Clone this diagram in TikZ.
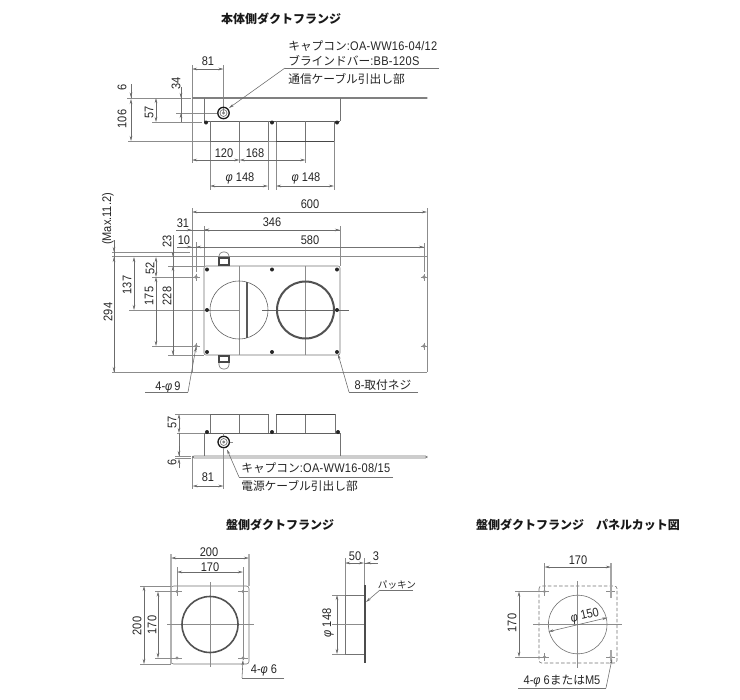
\documentclass[tikz,border=0pt]{standalone}
\usepackage{fontspec}
\setmainfont[FakeStretch=0.88]{Liberation Sans}
\newfontfamily\latsp[FakeStretch=0.88,LetterSpace=2]{Liberation Sans}
\newfontfamily\jpf{Noto Sans CJK JP}
\usetikzlibrary{arrows.meta}
\newcommand{\ph}{\textit{φ}}
\tikzset{
 x=0.75pt,y=-0.75pt,
 lab/.style={inner sep=0pt,font=\fontsize{9.4pt}{10pt}\selectfont,text=black!85},
 vlab/.style={lab,rotate=90},
 note/.style={lab,anchor=west,font=\fontsize{8.8pt}{10pt}\jpf\selectfont},
 ttl/.style={inner sep=0pt,font=\fontsize{9pt}{10pt}\jpf\bfseries\selectfont,text=black!90},
 ext/.style={draw=black!45,line width=0.42pt},
 dl/.style={draw=black!58,line width=0.42pt,{Stealth[length=3.8pt,width=1.9pt]}-{Stealth[length=3.8pt,width=1.9pt]}},
 da/.style={draw=black!58,line width=0.42pt,-{Stealth[length=3.8pt,width=1.9pt]}},
 lead/.style={draw=black!55,line width=0.42pt},
 body/.style={draw=black!55,line width=0.45pt},
 dark/.style={draw=black!72,line width=0.6pt},
 ring/.style={draw=black!68,line width=1.2pt},
 screw/.style={fill=black!85,draw=none},
 hole/.style={fill=black!45,draw=none},
}
\newcommand{\holecross}[2]{%
 \fill[hole] (#1,#2) circle (1.8);
 \draw[ext] (#1-3.5,#2) -- (#1+3.5,#2) (#1,#2-3.5) -- (#1,#2+3.5);}
\newcommand{\gland}[2]{%
 \draw[black!90,line width=1pt] (#1,#2) circle (5.7);
 \draw[black!55,line width=0.5pt] (#1,#2) circle (3.5);
 \fill[black!50] (#1,#2) circle (1.6);}
\newcommand{\tlat}[1]{{\latsp\fontsize{9.4pt}{10pt}\selectfont #1}}
\begin{document}
\begin{tikzpicture}
\useasboundingbox[fill=white] (0,0) rectangle (740,700);
%% ---------- top view
\node[ttl] (title1) at (281,19) {本体側ダクトフランジ};
\node[note] (n1) at (288,46) {キャプコン\tlat{:OA-WW16-04/12}};
\node[note] (n2) at (288,61) {ブラインドバー\tlat{:BB-120S}};
\node[note] (n3) at (288,79) {通信ケーブル引出し部};
\coordinate (g1) at (223.5,113);
\draw[ext] (192,65) -- (192,163) (223.5,65) -- (223.5,113)
 (239.5,121) -- (239.5,163) (305.5,121) -- (305.5,163)
 (210,141) -- (210,190) (268,121) -- (268,190) (276,141) -- (276,190) (334,141) -- (334,190);
\draw[ext] (127,98) -- (191,98) (128,141) -- (334,141) (152,122) -- (202,122) (176,113) -- (217,113);
\draw[black!50,line width=0.95pt,line cap=round] (192.5,98) -- (427,98);
\draw[body] (204,98) -- (204,121) (340,98) -- (340,121);
\draw[black!62,line width=0.7pt] (204,121.5) -- (340,121.5);
\draw[body] (210,121) -- (210,141) (268,121) -- (268,141) (276,121) -- (276,141) (334,121) -- (334,141) (239.5,121) -- (239.5,141) (305.5,121) -- (305.5,141);
\draw[dark] (276,141) -- (334,141);
\draw[black!60,line width=0.5pt] (210,141) -- (268,141);
\fill[screw] (206,122.5) circle (2) (272,122.5) circle (2) (337,122.5) circle (2);
\gland{223.5}{113}
\draw[dl] (192,69) -- (223.5,69);
\node[lab] (d81a) at (208,61.5) {81};
\draw[lead] (181,94) -- (181,122);
\draw[da] (181,87) -- (181,98);
\draw[da] (181,122) -- (181,113);
\node[vlab] (d34) at (176,83) {34};
\draw[dl] (156,98) -- (156,122);
\node[vlab] (d57a) at (149,112) {57};
\draw[lead] (131,84) -- (131,98);
\draw[da] (131,90) -- (131,97.5);
\draw[dl] (131,99) -- (131,141);
\node[vlab] (d6a) at (122,87) {6};
\node[vlab] (d106) at (122,119) {106};
\draw[dl] (192,160) -- (239.5,160);
\draw[dl] (239.5,160) -- (305.5,160);
\node[lab] (d120) at (224,153) {120};
\node[lab] (d168) at (255,153) {168};
\draw[dl] (210,186) -- (268,186);
\draw[dl] (276,186) -- (334,186);
\node[lab] (dp1) at (240,178) {\ph\ 148};
\node[lab] (dp2) at (306,178) {\ph\ 148};
\draw[lead] (439,68) -- (285,68);
\draw[da] (285,68) -- (229,108);
%% ---------- middle view
\draw[ext] (192,208) -- (192,372) (427,208) -- (427,372);
\draw[ext] (112,252) -- (190,252);
\draw[black!45,line width=0.85pt] (112,256.5) -- (427,256.5);
\draw[ext] (112,372) -- (427,372);
\draw[ext] (340,226) -- (340,266) (204,226) -- (204,266) (424,243) -- (424,272) (196,242) -- (196,272);
\draw[body,rounded corners=1.5] (204,266) rectangle (340,355);
\draw[body,rounded corners=3] (219,266) -- (219,252) -- (229,252) -- (229,266);
\draw[dark,line width=0.8pt] (219,266) -- (219,258) -- (229,258) -- (229,266) (219,265) -- (229,265);
\draw[body,rounded corners=3] (219,355) -- (219,369) -- (229,369) -- (229,355);
\draw[dark,line width=0.8pt] (219,355) -- (219,362) -- (229,362) -- (229,355) (219,356) -- (229,356);
\draw[ext] (239.5,266) -- (239.5,355) (305.5,266) -- (305.5,355);
\draw[ext] (195,310) -- (239.5,310);
\draw[black!60,line width=0.42pt] (262,310) -- (349,310);
\draw[black!65,line width=0.42pt] (239,310) circle (29);
\draw[ring,line width=1.5pt] (305.5,310) circle (28.5);
\draw[black!65,line width=0.8pt] (247,282) -- (247,338);
\fill[screw] (207,269.5) circle (2) (272,269.5) circle (2) (337,269.5) circle (2)
 (207,310) circle (2) (337,310) circle (2)
 (207,352) circle (2) (272,352) circle (2) (337,352) circle (2);
\holecross{196}{277}\holecross{196}{346}\holecross{424}{277}\holecross{424}{346}
\draw[dl] (192,212) -- (427,212);
\node[lab] (d600) at (310,204) {600};
\draw[lead] (176,230) -- (340,230);
\draw[da] (180,230) -- (192,230);
\draw[da] (216,230) -- (204,230);
\draw[dl] (204,230) -- (340,230);
\node[lab] (d31) at (183,223) {31};
\node[lab] (d346) at (272,222) {346};
\draw[lead] (177,247) -- (424,247);
\draw[da] (184,247) -- (192,247);
\draw[da] (207,247) -- (196,247);
\draw[da] (400,247) -- (424,247);
\node[lab] (d10) at (184,240) {10};
\node[lab] (d580) at (310,240) {580};
\draw[lead] (114,240) -- (114,372);
\draw[da] (114,240) -- (114,252);
\draw[dl] (114,257) -- (114,372);
\node[vlab] (dmax) at (108,219) {(Max.11.2)};
\node[vlab] (d294) at (108,312) {294};
\draw[ext] (129,310) -- (195,310);
\draw[dl] (134,257) -- (134,310);
\node[vlab] (d137) at (127,285) {137};
\draw[ext] (152,277) -- (192,277) (152,346) -- (192,346);
\draw[dl] (156,257) -- (156,277);
\draw[dl] (156,277) -- (156,346);
\node[vlab] (d52) at (150,268) {52};
\node[vlab] (d175) at (149,296) {175};
\draw[ext] (168,266) -- (204,266) (168,355) -- (204,355);
\draw[lead] (173,235) -- (173,355);
\draw[da] (173,245) -- (173,257);
\draw[dl] (173,266) -- (173,355);
\node[vlab] (d23) at (167,241) {23};
\node[vlab] (d228) at (167,296) {228};
\node[lab] (dh9) at (168,387) {4-\ph\,9};
\draw[lead] (145,392) -- (188,392);
\draw[da] (188,392) -- (196,347);
\node[lab] (ds8) at (383,385) {8-{\jpf\fontsize{8.8pt}{10pt}\selectfont 取付ネジ}};
\draw[lead] (418,392) -- (349,392);
\draw[da] (349,392) -- (338,354);
%% ---------- bottom view
\draw[ext] (177,433) -- (204,433) (175,456) -- (191,456) (175,458.5) -- (191,458.5);
\draw[body] (210,433) -- (210,414) (268.5,433) -- (268.5,414) (239.5,433) -- (239.5,414)
 (276,433) -- (276,414) (335,433) -- (335,414) (305.5,433) -- (305.5,414);
\draw[dark] (276,414) -- (335,414);
\draw[black!60,line width=0.5pt] (210,414) -- (268.5,414);
\draw[black!62,line width=0.7pt] (204,433.5) -- (340,433.5);
\draw[body] (204,433) -- (204,456) (340,433) -- (340,456);
\draw[body,line width=0.5pt,rounded corners=1] (192.5,456) rectangle (427,458);
\fill[screw] (207,432) circle (2) (272,432) circle (2) (338,432) circle (2);
\gland{223.7}{442}
\draw[ext] (192.5,458) -- (192.5,489) (223.5,448) -- (223.5,489) (223.5,433) -- (223.5,436);
\draw[ext] (230,442) -- (233,442);
\draw[dl] (179,414) -- (179,433);
\draw[lead] (179,433) -- (179,456);
\draw[da] (179,446) -- (179,456);
\draw[da] (179,468) -- (179,458.5);
\draw[ext] (175,414) -- (210,414);
\node[vlab] (d57b) at (172,422) {57};
\node[vlab] (d6b) at (172,462) {6};
\draw[dl] (192.5,486) -- (223.5,486);
\node[lab] (d81b) at (208,477) {81};
\node[note] (n4) at (241,468) {キャプコン\tlat{:OA-WW16-08/15}};
\node[note] (n5) at (241,486) {電源ケーブル引出し部};
\draw[lead] (393,477) -- (239,477);
\draw[da] (239,477) -- (227,449.5);
%% ---------- duct flange front
\node[ttl] (title2) at (280,525) {盤側ダクトフランジ};
\draw[body,rounded corners=2] (171,586) rectangle (249,664);
\draw[black!30,line width=0.8pt] (171,554) -- (171,664);
\draw[black!30,line width=0.8pt] (249,554) -- (249,586);
\draw[ext] (177,567) -- (177,596) (243,567) -- (243,660);
\draw[ext] (140,586) -- (171,586) (140,664) -- (171,664) (155,591.5) -- (182,591.5) (155,658) -- (182,658);
\draw[ext] (167,624.5) -- (254,624.5) (210,582) -- (210,667);
\draw[ring] (210,624.5) circle (28);
\fill[hole] (177,591.5) circle (1.6) (243,591.5) circle (1.6) (177,658) circle (1.6) (243,658) circle (1.6);
\draw[ext] (238,591.5) -- (248,591.5) (238,658) -- (248,658);
\draw[dl] (171,558) -- (249,558);
\node[lab] (d200a) at (209,552) {200};
\draw[dl] (177,572) -- (243,572);
\node[lab] (d170a) at (210,567) {170};
\draw[dl] (144,586) -- (144,664);
\node[vlab] (d200b) at (137,626) {200};
\draw[dl] (158,591.5) -- (158,658);
\node[vlab] (d170b) at (152,625) {170};
\node[lab] (dh6a) at (264,670) {4-\ph\ 6};
\draw[lead] (284,678) -- (242,678);
\draw[da] (242,678) -- (243,660);
%% ---------- duct flange side
\draw[body] (345,595) rectangle (364,654);
\draw[ext] (332,624.5) -- (364,624.5);
\draw[black!70,line width=0.9pt] (365,585) -- (365,663);
\draw[ext] (345,558) -- (345,595) (364.5,558) -- (364.5,585);
\draw[ext] (332,595) -- (345,595) (332,654) -- (345,654);
\draw[dl] (345,563) -- (364,563);
\draw[lead] (364,563) -- (378,563);
\draw[da] (375,563) -- (366,563);
\node[lab] (d50) at (355,556) {50};
\node[lab] (d3) at (376,556) {3};
\draw[dl] (337,595) -- (337,654);
\node[vlab] (dp3) at (328,623) {\ph\ 148};
\node[lab,font=\fontsize{7.2pt}{8pt}\jpf\selectfont] (n6) at (397,585) {パッキン};
\draw[lead] (413,590) -- (380,590);
\draw[da] (380,590) -- (366,602);
%% ---------- panel cut
\node[ttl] (title3) at (578,525) {盤側ダクトフランジ　パネルカット図};
\draw[body,dashed,dash pattern=on 2.6pt off 1.6pt,rounded corners=2] (539,586) rectangle (617,663);
\draw[body] (577.7,624.5) circle (29.3);
\draw[ext] (533,624.5) -- (622,624.5) (577.7,581) -- (577.7,668);
\fill[hole] (544.5,591.5) circle (1.6) (611,591.5) circle (1.6) (544.5,657) circle (1.6) (611,657) circle (1.6);
\draw[ext] (540,591.5) -- (549,591.5) (606,591.5) -- (615,591.5) (540,657) -- (549,657) (606,657) -- (615,657);
\draw[ext] (544.5,563) -- (544.5,596) (544.5,653) -- (544.5,661);
\draw[black!35,line width=0.8pt] (611,563) -- (611,598) (611,650) -- (611,661);
\draw[ext] (515,591.5) -- (548,591.5) (515,657) -- (548,657);
\draw[dl] (544.5,567) -- (611,567);
\node[lab] (d170c) at (578,560) {170};
\draw[dl] (519,591.5) -- (519,657);
\node[vlab] (d170d) at (512,623) {170};
\draw[dl] (548.3,631.7) -- (607.3,617.7);
\node[lab,rotate=13] (dp4) at (585,616) {\ph\ 150};
\node[lab] (dh6b) at (562,681) {4-\ph\ 6{\jpf\fontsize{8.8pt}{10pt}\selectfont または}M5};
\draw[lead] (518,688) -- (606,688);
\draw[da] (606,688) -- (612,659);
\end{tikzpicture}
\end{document}
